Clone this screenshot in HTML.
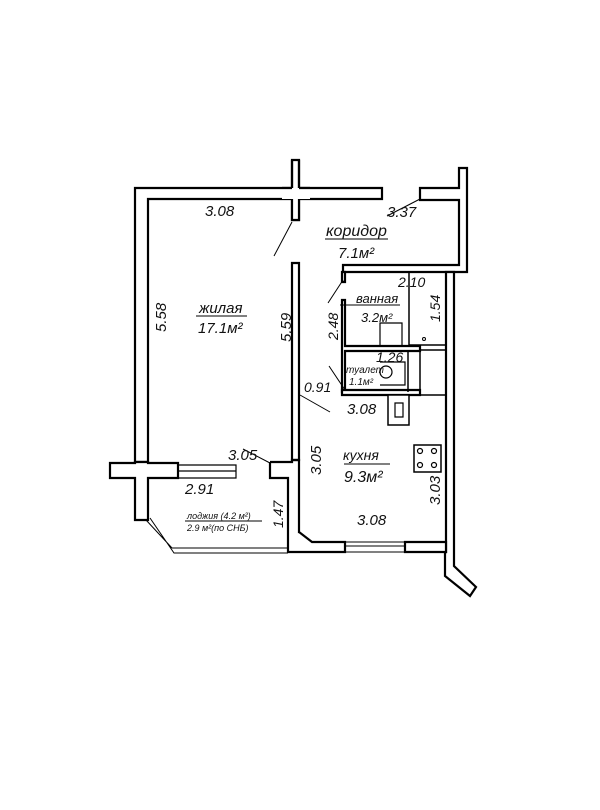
<!DOCTYPE html>
<html><head><meta charset="utf-8"><style>
html,body{margin:0;padding:0;background:#fff}
svg{display:block}
text{font-family:"Liberation Sans",sans-serif;font-style:italic;fill:#111}
</style></head><body>
<svg width="600" height="810" viewBox="0 0 600 810" xmlns="http://www.w3.org/2000/svg">
<g fill="#fff" stroke="#000" stroke-width="2.2" stroke-linejoin="miter">
<!-- top wall -->
<path d="M135,188 H382 V199 H148 V462 H135 Z"/>
<!-- post -->
<path d="M292,160 H299 V220 H292 Z"/>
<path d="M282,188 H310 V199 H282 Z" stroke="none"/>
<path d="M292,160 V188 M299,160 V188 M292,199 V220 H299 V199 M282,188 H292 M299,188 H310"/>
<!-- corridor right -->
<path d="M420,188 H459 V168 H467 V272 H343 V265 H459 V200 H420 Z"/>
<!-- right outer wall -->
<path d="M446,272 H454 V566 L476,587 L470,596 L445,576 V552 L446,552 Z"/>
<!-- interior wall living/kitchen -->
<path d="M292,263 H299 V460 H292 Z"/>
<path d="M270,462 H292 V460 H299 V532 L300,532 V532 M270,462 V478 H288 V552 H345 V542 H312 L299,532 V460"/>
<path d="M405,542 H446 V552 H405 Z"/>
<!-- kitchen window -->
<path d="M345,542 H405 M345,552 H405 M345,546 H405" fill="none" stroke-width="1"/>
<!-- left junction cross -->
<path d="M110,463 H135 V462 H148 V463 H178 V478 H148 V520 H135 V478 H110 Z"/>
<!-- living window -->
<path d="M178,465 H236 V478 H178 M178,471 H236" fill="none" stroke-width="1.2"/>
<!-- loggia -->
<path d="M146,520 L172,548 H288 M150,518 L174,553 H288" fill="none" stroke-width="1"/>
<!-- bath walls -->
<path d="M342,272 H345 V282 H342 Z"/>
<path d="M342,300 H345 V346 H420 V351 H345 V392 H342 Z"/>
<path d="M342,390 H420 V395 H342 Z"/>
<path d="M409,272 V346 M409,345 H445" fill="none" stroke-width="1.5"/>
<path d="M420,350 H446 V395 H420 Z" fill="none" stroke-width="1.5"/>
<path d="M408,352 V392" fill="none" stroke-width="1.5"/>
<path d="M380,323 H402 V346 H380 Z" fill="none" stroke-width="1.2"/>
<circle cx="424" cy="339" r="1.5" fill="none" stroke-width="1"/>
<circle cx="386" cy="372" r="6" fill="none" stroke-width="1.2"/>
<path d="M380,362 H405 V385 H380" fill="none" stroke-width="1.2"/>
<!-- vent box -->
<path d="M388,395 H409 V425 H388 Z" stroke-width="1.5"/>
<path d="M395,403 H403 V417 H395 Z" stroke-width="1.2"/>
<!-- stove -->
<path d="M414,445 H441 V472 H414 Z" stroke-width="1.5"/>
</g>
<g fill="none" stroke="#000" stroke-width="1.2">
<circle cx="420" cy="451" r="2.5"/><circle cx="434" cy="451" r="2.5"/>
<circle cx="420" cy="465" r="2.5"/><circle cx="434" cy="465" r="2.5"/>
</g>
<!-- dimension leader lines -->
<g stroke="#000" stroke-width="1" fill="none">
<line x1="292" y1="222" x2="274" y2="256"/>
<line x1="420" y1="199" x2="387" y2="216"/>
<line x1="343" y1="280" x2="328" y2="303"/>
<line x1="329" y1="366" x2="345" y2="390"/>
<line x1="300" y1="395" x2="330" y2="412"/>
<line x1="243" y1="449" x2="270" y2="463"/>
<line x1="325" y1="239" x2="388" y2="239"/>
<line x1="196" y1="316" x2="247" y2="316"/>
<line x1="340" y1="305" x2="400" y2="305"/>
<line x1="344" y1="464" x2="390" y2="464"/>
<line x1="185" y1="521" x2="262" y2="521"/>
</g>
<g font-size="15">
<text x="205" y="216">3.08</text>
<text x="387" y="217">3.37</text>
<text x="326" y="236" font-size="16">коридор</text>
<text x="338" y="258">7.1м²</text>
<text x="199" y="313">жилая</text>
<text x="198" y="333">17.1м²</text>
<text x="398" y="287" font-size="14">2.10</text>
<text x="356" y="303" font-size="13">ванная</text>
<text x="361" y="322" font-size="13">3.2м²</text>
<text x="376" y="362" font-size="14">1.26</text>
<text x="346" y="373" font-size="10">туалет</text>
<text x="349" y="385" font-size="10">1.1м²</text>
<text x="304" y="392" font-size="14">0.91</text>
<text x="347" y="414">3.08</text>
<text x="228" y="460">3.05</text>
<text x="185" y="494">2.91</text>
<text x="343" y="460" font-size="14">кухня</text>
<text x="344" y="482" font-size="16">9.3м²</text>
<text x="357" y="525">3.08</text>
<text x="187" y="519" font-size="9">лоджия (4.2 м²)</text>
<text x="187" y="531" font-size="9">2.9 м²(по СНБ)</text>
<text transform="translate(166,332) rotate(-90)">5.58</text>
<text transform="translate(291,342) rotate(-90)">5.59</text>
<text transform="translate(338,340) rotate(-90)" font-size="14">2.48</text>
<text transform="translate(440,322) rotate(-90)" font-size="14">1.54</text>
<text transform="translate(321,475) rotate(-90)">3.05</text>
<text transform="translate(440,505) rotate(-90)">3.03</text>
<text transform="translate(283,528) rotate(-90)" font-size="14">1.47</text>
</g>
</svg>
</body></html>
